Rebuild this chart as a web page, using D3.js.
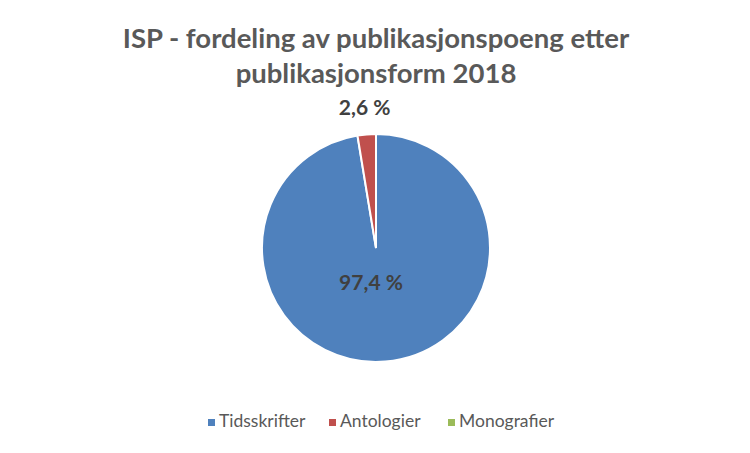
<!DOCTYPE html>
<html lang="no">
<head>
  <meta charset="UTF-8">
  <title>ISP - fordeling av publikasjonspoeng</title>
  <style>
    body { margin: 0; background: #fff; }
    svg { display: block; font-family: Lato, "Open Sans", sans-serif; }
  </style>
</head>
<body>
  <script src="https://d3js.org/d3.v7.min.js"></script>
  <script>
    // data
    const categories = ['Tidsskrifter', 'Antologier', 'Monografier'];
    const values = [97.4, 2.6, 0];
    const labels = ['97,4 %', '2,6 %', ''];
    const colors = ['#4F81BD', '#C0504D', '#9BBB59'];
    const titleLines = ['ISP - fordeling av publikasjonspoeng etter', 'publikasjonsform 2018'];

    const svgWidth = 750, svgHeight = 453;
    const cx = 376, cy = 248, radius = 114;

    const svg = d3.select('body').append('svg')
      .attr('width', svgWidth)
      .attr('height', svgHeight);

    // tittel
    svg.append('g').selectAll('text').data(titleLines).enter().append('text')
      .attr('x', 376)
      .attr('y', (d, i) => 48 + i * 35)
      .attr('text-anchor', 'middle')
      .attr('font-size', 27.5)
      .attr('font-weight', 'bold')
      .attr('fill', '#595959')
      .text(d => d);

    // kake
    const data = categories.map((c, i) => ({ name: c, value: values[i], label: labels[i], color: colors[i] }));
    const pie = d3.pie().sort(null).value(d => d.value);
    const arcs = pie(data);
    const arc = d3.arc().innerRadius(0).outerRadius(radius);

    const g = svg.append('g').attr('transform', `translate(${cx},${cy})`);

    g.selectAll('path').data(arcs).enter().append('path')
      .attr('d', arc)
      .attr('fill', d => d.data.color)
      .attr('stroke', '#fff')
      .attr('stroke-width', 2);

    // etiketter
    const outerLabel = d3.arc().innerRadius(radius * 1.22).outerRadius(radius * 1.22);

    g.selectAll('text.lbl').data(arcs.filter(d => d.data.label)).enter().append('text')
      .attr('class', 'lbl')
      .attr('transform', d => {
        const p = d.data.value > 50 ? [-5, 37] : outerLabel.centroid(d);
        return `translate(${p[0]},${p[1]})`;
      })
      .attr('text-anchor', 'middle')
      .attr('dominant-baseline', 'middle')
      .attr('font-size', 21)
      .attr('font-weight', 'bold')
      .attr('fill', '#404040')
      .text(d => d.data.label);

    // legende
    const legendX = [208, 329, 448];
    const legend = svg.append('g').selectAll('g').data(data).enter().append('g')
      .attr('transform', (d, i) => `translate(${legendX[i]},423)`);

    legend.append('rect')
      .attr('x', 0).attr('y', -4)
      .attr('width', 7).attr('height', 7)
      .attr('fill', d => d.color);

    legend.append('text')
      .attr('x', 11)
      .attr('y', 0)
      .attr('dominant-baseline', 'middle')
      .attr('font-size', 17.5)
      .attr('fill', '#595959')
      .text(d => d.name);
  </script>
</body>
</html>
